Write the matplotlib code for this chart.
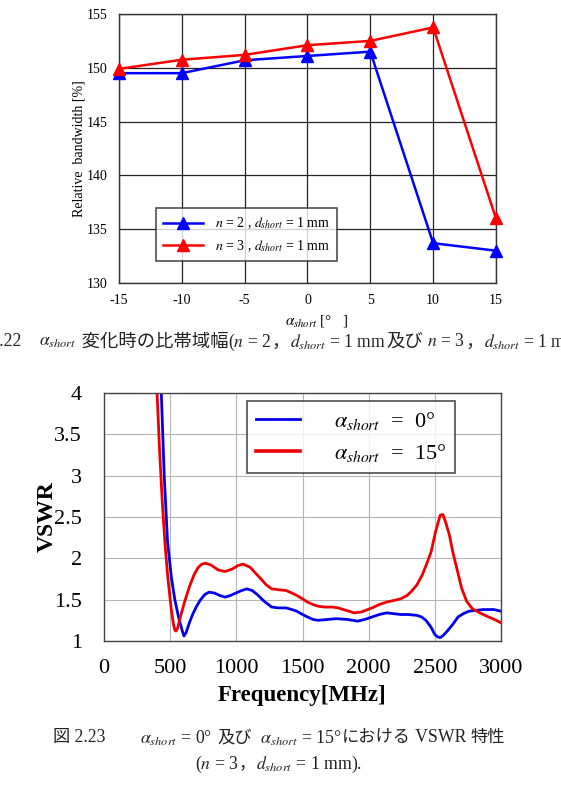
import matplotlib
matplotlib.use('Agg')
from matplotlib import pyplot as plt
from matplotlib.lines import Line2D
import numpy as np

plt.rcParams['font.family'] = ['Liberation Serif', 'Noto Sans CJK JP']
plt.rcParams['mathtext.fontset'] = 'stix'

# --- data: relative bandwidth vs alpha_short ---
alpha = [-15, -10, -5, 0, 5, 10, 15]
bw_n2 = [149.5, 149.5, 150.7, 151.1, 151.5, 133.7, 133.0]
bw_n3 = [149.9, 150.75, 151.2, 152.1, 152.5, 153.75, 136.0]

# --- data: VSWR vs frequency ---
f_0 = [425, 433, 455, 480, 509, 535, 563, 590, 604, 620, 645, 672, 700, 726, 760, 793,
       834, 875, 915, 955, 997, 1040, 1078, 1120, 1159, 1210, 1267, 1320, 1376, 1420,
       1457, 1500, 1538, 1580, 1619, 1690, 1755, 1840, 1917, 1970, 2025, 2080, 2134,
       2190, 2242, 2300, 2364, 2400, 2432, 2470, 2499, 2520, 2540, 2565, 2594, 2635,
       2675, 2715, 2757, 2810, 2865, 2946, 3000]
vswr_0 = [4.3, 4.0, 3.0, 2.2, 1.77, 1.5, 1.29, 1.13, 1.06, 1.1, 1.22, 1.33, 1.42, 1.49,
          1.56, 1.59, 1.58, 1.55, 1.53, 1.55, 1.58, 1.61, 1.63, 1.61, 1.56, 1.48, 1.41,
          1.40, 1.40, 1.38, 1.36, 1.32, 1.29, 1.26, 1.25, 1.26, 1.27, 1.26, 1.24, 1.26,
          1.29, 1.32, 1.34, 1.33, 1.32, 1.32, 1.31, 1.29, 1.25, 1.17, 1.08, 1.05, 1.04,
          1.07, 1.12, 1.20, 1.29, 1.33, 1.36, 1.37, 1.38, 1.38, 1.36]

f_15 = [392, 401, 420, 441, 462, 482, 509, 525, 536, 544, 555, 577, 610, 644, 680, 712,
        740, 766, 807, 861, 915, 969, 1010, 1051, 1105, 1145, 1186, 1225, 1267, 1320,
        1376, 1420, 1457, 1500, 1538, 1580, 1619, 1670, 1728, 1770, 1809, 1850, 1890,
        1944, 2025, 2080, 2134, 2190, 2242, 2290, 2323, 2365, 2405, 2440, 2472, 2505,
        2540, 2560, 2581, 2610, 2635, 2670, 2702, 2740, 2783, 2840, 2892, 2950, 3000]
vswr_15 = [4.3, 4.0, 3.3, 2.66, 2.15, 1.77, 1.37, 1.2, 1.13, 1.12, 1.15, 1.29, 1.48,
           1.65, 1.8, 1.89, 1.93, 1.94, 1.92, 1.86, 1.84, 1.87, 1.91, 1.93, 1.89, 1.82,
           1.75, 1.68, 1.63, 1.62, 1.61, 1.58, 1.55, 1.51, 1.47, 1.44, 1.42, 1.41, 1.41,
           1.40, 1.38, 1.36, 1.34, 1.35, 1.40, 1.44, 1.47, 1.49, 1.51, 1.55, 1.60, 1.68,
           1.80, 1.94, 2.08, 2.32, 2.52, 2.53, 2.44, 2.28, 2.08, 1.85, 1.64, 1.48, 1.39,
           1.34, 1.30, 1.26, 1.22]

fig = plt.figure(figsize=(5.61, 8.09), dpi=100)

## top chart
ax1 = fig.add_axes([0.2121, 0.6502, 0.672, 0.3325])
ax1.plot(alpha, bw_n2, color='#0000ff', lw=1.8, marker='^', ms=9, clip_on=False, zorder=3,
         label=r'$n$ = 2 , $d_{short}$ = 1 mm')
ax1.plot(alpha, bw_n3, color='#ff0000', lw=1.8, marker='^', ms=9, clip_on=False, zorder=3,
         label=r'$n$ = 3 , $d_{short}$ = 1 mm')
ax1.set_xlim(-15, 15)
ax1.set_ylim(130, 155)
ax1.set_xticks(alpha)
ax1.set_xticklabels(['-15', '-10', '-5', '0', '5', '10', '15'])
ax1.set_yticks([130, 135, 140, 145, 150, 155])
ax1.grid(True, color='#222222', lw=0.9)
ax1.set_axisbelow(True)
for s in ax1.spines.values():
    s.set_color('#333333')
    s.set_linewidth(1.0)
ax1.tick_params(length=0, labelsize=10, pad=8)
ax1.set_ylabel('Relative  bandwidth [%]', fontsize=10, labelpad=1)
ax1.set_xlabel(r'$\alpha_{short}$ [°   ]', fontsize=11, labelpad=4, x=0.525)
leg1 = ax1.legend(loc='upper left', bbox_to_anchor=(0.097, 0.279), fontsize=10,
                  frameon=True, fancybox=False, handlelength=2.9, borderpad=0.55,
                  labelspacing=0.5, handletextpad=0.8, borderaxespad=0)
leg1.get_frame().set_edgecolor('#222222')
leg1.get_frame().set_linewidth(1.2)
leg1.set_zorder(5)

## bottom chart
ax2 = fig.add_axes([0.1854, 0.2077, 0.7077, 0.3066])
ax2.plot(f_0, vswr_0, color='#0000ee', lw=2.0)
ax2.plot(f_15, vswr_15, color='#ee0000', lw=2.0)
ax2.set_xlim(0, 3000)
ax2.set_ylim(1, 4)
ax2.set_xticks([0, 500, 1000, 1500, 2000, 2500, 3000])
ax2.set_yticks([1, 1.5, 2, 2.5, 3, 3.5, 4])
ax2.set_yticklabels(['1', '1.5', '2', '2.5', '3', '3.5', '4'])
ax2.grid(True, color='#b5b5b5', lw=0.8)
ax2.set_axisbelow(True)
for s in ax2.spines.values():
    s.set_color('#444444')
    s.set_linewidth(1.0)
ax2.tick_params(length=0, labelsize=16)
ax2.tick_params(axis='x', pad=13)
ax2.tick_params(axis='y', pad=16)
ax2.set_ylabel('VSWR', fontsize=17, fontweight='bold', labelpad=-3)
ax2.set_xlabel('Frequency[MHz]', fontsize=16.5, fontweight='bold', labelpad=5)
handles = [Line2D([], [], color='#0000ee', lw=2.0), Line2D([], [], color='#ee0000', lw=2.6)]
leg2 = ax2.legend(handles, [r'$\alpha_{short}$  =  0°', r'$\alpha_{short}$  =  15°'],
                  loc='upper left', bbox_to_anchor=(0.36, 0.968), fontsize=16,
                  frameon=True, fancybox=False, handlelength=2.0, borderpad=0.4,
                  labelspacing=0.45, handletextpad=1.5, borderaxespad=0)
leg2.get_frame().set_edgecolor('#222222')
leg2.get_frame().set_linewidth(1.2)


## captions built from pieces (math parts in stix, CJK via fallback)
def caption(pieces, xc, yc):
    r = fig.canvas.get_renderer()
    texts = []
    for s, size in pieces:
        t = fig.text(0, yc, s, fontsize=size, va='center', ha='left', color='#222222')
        texts.append(t)
    widths = [t.get_window_extent(r).width for t in texts]
    W = fig.bbox.width
    x = xc - sum(widths) / W / 2
    for t, w in zip(texts, widths):
        t.set_x(x)
        x += w / W


L, J = 12.7, 13.2
caption([('図', J), (' 2.22　', L), (r'$\alpha_{short}$', L), (' 変化時の比帯域幅', J),
         (r'($n$ = 2', L), ('，', J), (r'$d_{short}$ = 1 mm ', L), ('及び', J),
         (r' $n$ = 3', L), ('，', J), (r'$d_{short}$ = 1 mm).', L)], 0.4965, 1 - 342 / 809)
L, J = 12.8, 12.4
caption([('図', J), (' 2.23', L), ('　　', J), (r'$\alpha_{short}$ = 0°  ', L),
         ('及び', J), (r'  $\alpha_{short}$ = 15°', L), ('における', J), (' VSWR ', L),
         ('特性', J)], 0.497, 1 - 738 / 809)
caption([(r'($n$ = 3', L), ('，', J), (r'$d_{short}$ = 1 mm).', L)], 0.497, 1 - 764 / 809)

fig.savefig('out.png', dpi=100)
